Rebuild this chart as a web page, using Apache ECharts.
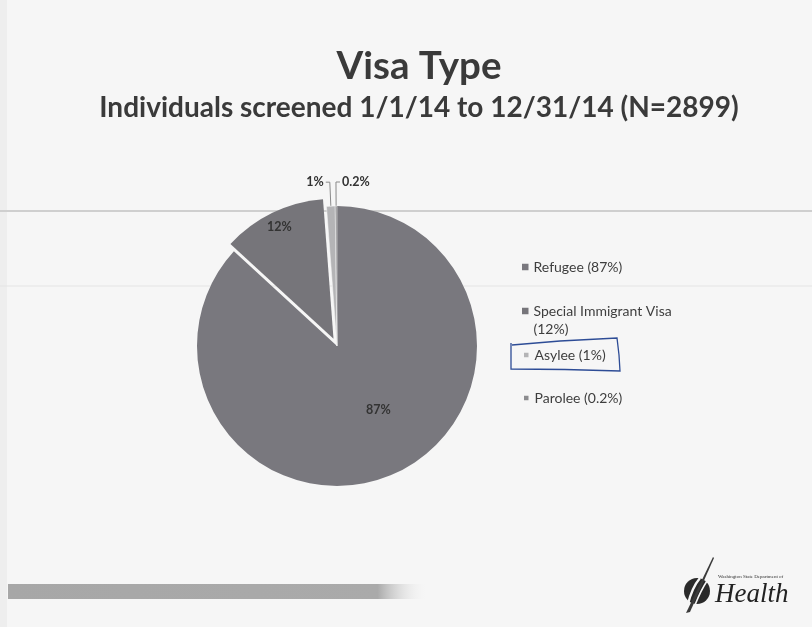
<!DOCTYPE html>
<html>
<head>
<meta charset="utf-8">
<script src="https://cdn.jsdelivr.net/npm/echarts@6/dist/echarts.min.js"></script>
<style>
  html, body { margin: 0; padding: 0; background: #f6f6f6; }
  #chart { width: 812px; height: 627px; }
</style>
</head>
<body>
<div id="chart"></div>
<script>
// Visa type of individuals screened during 2014, as share of all screenings
const visaTypes = ['Refugee', 'Special Immigrant Visa', 'Asylee', 'Parolee'];
const sharePct = [87, 12, 1, 0.2];
const chartTitle = 'Visa Type';
const chartSubtitle = 'Individuals screened 1/1/14 to 12/31/14 (N=2899)';
const agencyLine = 'Washington State Department of';
const agencyName = 'Health';

const FONT = 'Lato, "Open Sans", sans-serif';
const sliceColors = ['#79787e', '#76757a', '#b4b4b6', '#8c8c8f'];
const legendTops = [258, 284, 346, 389];
const CX = 337, CY = 346, R = 140;

const chart = echarts.init(document.getElementById('chart'));

// Long legend names wrap after the name; a leading blank line keeps the
// marker beside the first line of text.
function legendLabel(name) {
  const v = sharePct[visaTypes.indexOf(name)];
  if (name.length > 16) return ' \n' + name + '\n(' + v + '%)';
  return name + ' (' + v + '%)';
}

const pieData = visaTypes.map((name, i) => ({
  name: name,
  value: sharePct[i],
  selected: i === 1,
  itemStyle: {
    color: sliceColors[i],
    borderColor: '#f6f6f6',
    borderWidth: i >= 2 ? 0.5 : 0
  },
  label: { position: i >= 2 ? 'outside' : 'inside' },
  labelLine: { show: i >= 2 }
}));

const option = {
  backgroundColor: '#f6f6f6',
  animation: false,
  title: {
    text: chartTitle,
    subtext: chartSubtitle,
    left: 414,
    textAlign: 'center',
    top: 42,
    itemGap: 8,
    textStyle: { fontFamily: FONT, fontSize: 38.5, fontWeight: 'bold', color: '#3a3a3a' },
    subtextStyle: { fontFamily: FONT, fontSize: 28, fontWeight: 'bold', color: '#3a3a3a' }
  },
  legend: visaTypes.map((name, i) => ({
    data: [name],
    orient: 'vertical',
    left: 522,
    top: legendTops[i],
    padding: 0,
    itemGap: 0,
    icon: 'rect',
    itemWidth: 6.5,
    itemHeight: 6.5,
    selectedMode: false,
    formatter: legendLabel,
    textStyle: { fontFamily: FONT, fontSize: 14, color: '#3e3e3e', lineHeight: 18 }
  })),
  series: [{
    type: 'pie',
    center: [CX, CY],
    radius: R,
    startAngle: 90,
    clockwise: true,
    selectedMode: 'single',
    selectedOffset: 8,
    avoidLabelOverlap: false,
    silent: true,
    emphasis: { disabled: true },
    z: 3,
    label: {
      show: true,
      formatter: '{c}%',
      fontFamily: FONT,
      fontSize: 12.5,
      fontWeight: 'bold',
      color: '#333',
      distanceToLabelLine: 2
    },
    labelLine: {
      length: 24,
      length2: 4,
      smooth: false,
      lineStyle: { color: '#8a8a8a', width: 1 }
    },
    labelLayout: function (p) {
      const lx = p.labelRect.x + p.labelRect.width / 2;
      const ly = p.labelRect.y + p.labelRect.height / 2;
      if (p.dataIndex === 0) {
        // nudge the big slice's label a little clockwise
        return { dx: 12, dy: -3 };
      }
      if (p.dataIndex === 1) {
        // push the label out toward the rim of its slice
        return { dx: (lx - CX) * 0.7, dy: (ly - CY) * 0.7 };
      }
      if (p.dataIndex === 3 && p.labelLinePoints) {
        // the last sliver's label sits to the right of its leader line
        const pts = p.labelLinePoints;
        const bend = pts[1];
        const end = [bend[0] + 4, bend[1]];
        return { labelLinePoints: [pts[0], bend, end], x: end[0] + 2, y: end[1], align: 'left', verticalAlign: 'middle' };
      }
    },
    data: pieData
  }],
  graphic: [
    // faint rules of the slide behind the chart
    { type: 'rect', z: 0, shape: { x: 0, y: 0, width: 7, height: 627 }, style: { fill: '#eeeeee' } },
    { type: 'line', z: 0, shape: { x1: 0, y1: 211, x2: 812, y2: 211 }, style: { stroke: '#cfcfcf', lineWidth: 2 } },
    { type: 'line', z: 0, shape: { x1: 0, y1: 286, x2: 812, y2: 286 }, style: { stroke: '#e4e4e4', lineWidth: 1 } },
    // footer band
    {
      type: 'rect', z: 0,
      shape: { x: 8, y: 584, width: 420, height: 15 },
      style: {
        fill: new echarts.graphic.LinearGradient(0, 0, 1, 0, [
          { offset: 0, color: '#a7a7a7' },
          { offset: 0.88, color: '#aaaaaa' },
          { offset: 1, color: 'rgba(246,246,246,0)' }
        ])
      }
    },
    // hand-drawn box around the Asylee entry
    {
      type: 'polyline', z: 5,
      shape: { points: [[512, 345], [560, 341], [617, 338], [619, 355], [620, 371], [565, 369.5], [511, 369], [511, 343]] },
      style: { stroke: '#2d4c96', lineWidth: 1.3, fill: null }
    },
    // agency logo
    { type: 'circle', z: 5, shape: { cx: 697, cy: 591, r: 13 }, style: { fill: '#2a2a2a' } },
    {
      type: 'bezierCurve', z: 6,
      shape: { x1: 688, y1: 604, x2: 700, y2: 578, cpx1: 691, cpy1: 592, cpx2: 695, cpy2: 584 },
      style: { stroke: '#f6f6f6', lineWidth: 2.4, fill: null }
    },
    {
      type: 'bezierCurve', z: 6,
      shape: { x1: 695, y1: 605, x2: 707, y2: 581, cpx1: 699, cpy1: 595, cpx2: 703, cpy2: 587 },
      style: { stroke: '#f6f6f6', lineWidth: 1.6, fill: null }
    },
    {
      type: 'polygon', z: 7,
      shape: { points: [[686, 613], [713, 557], [714, 558], [690, 612]] },
      style: { fill: '#3a3a3a' }
    },
    {
      type: 'text', z: 5, x: 718, y: 577,
      style: { text: agencyLine, font: '5px "Liberation Serif", serif', fill: '#333', verticalAlign: 'middle' }
    },
    {
      type: 'text', z: 5, x: 715, y: 595,
      style: { text: agencyName, font: 'italic 27px "Liberation Serif", serif', fill: '#222', verticalAlign: 'middle' }
    }
  ]
};

chart.setOption(option);
</script>
</body>
</html>
